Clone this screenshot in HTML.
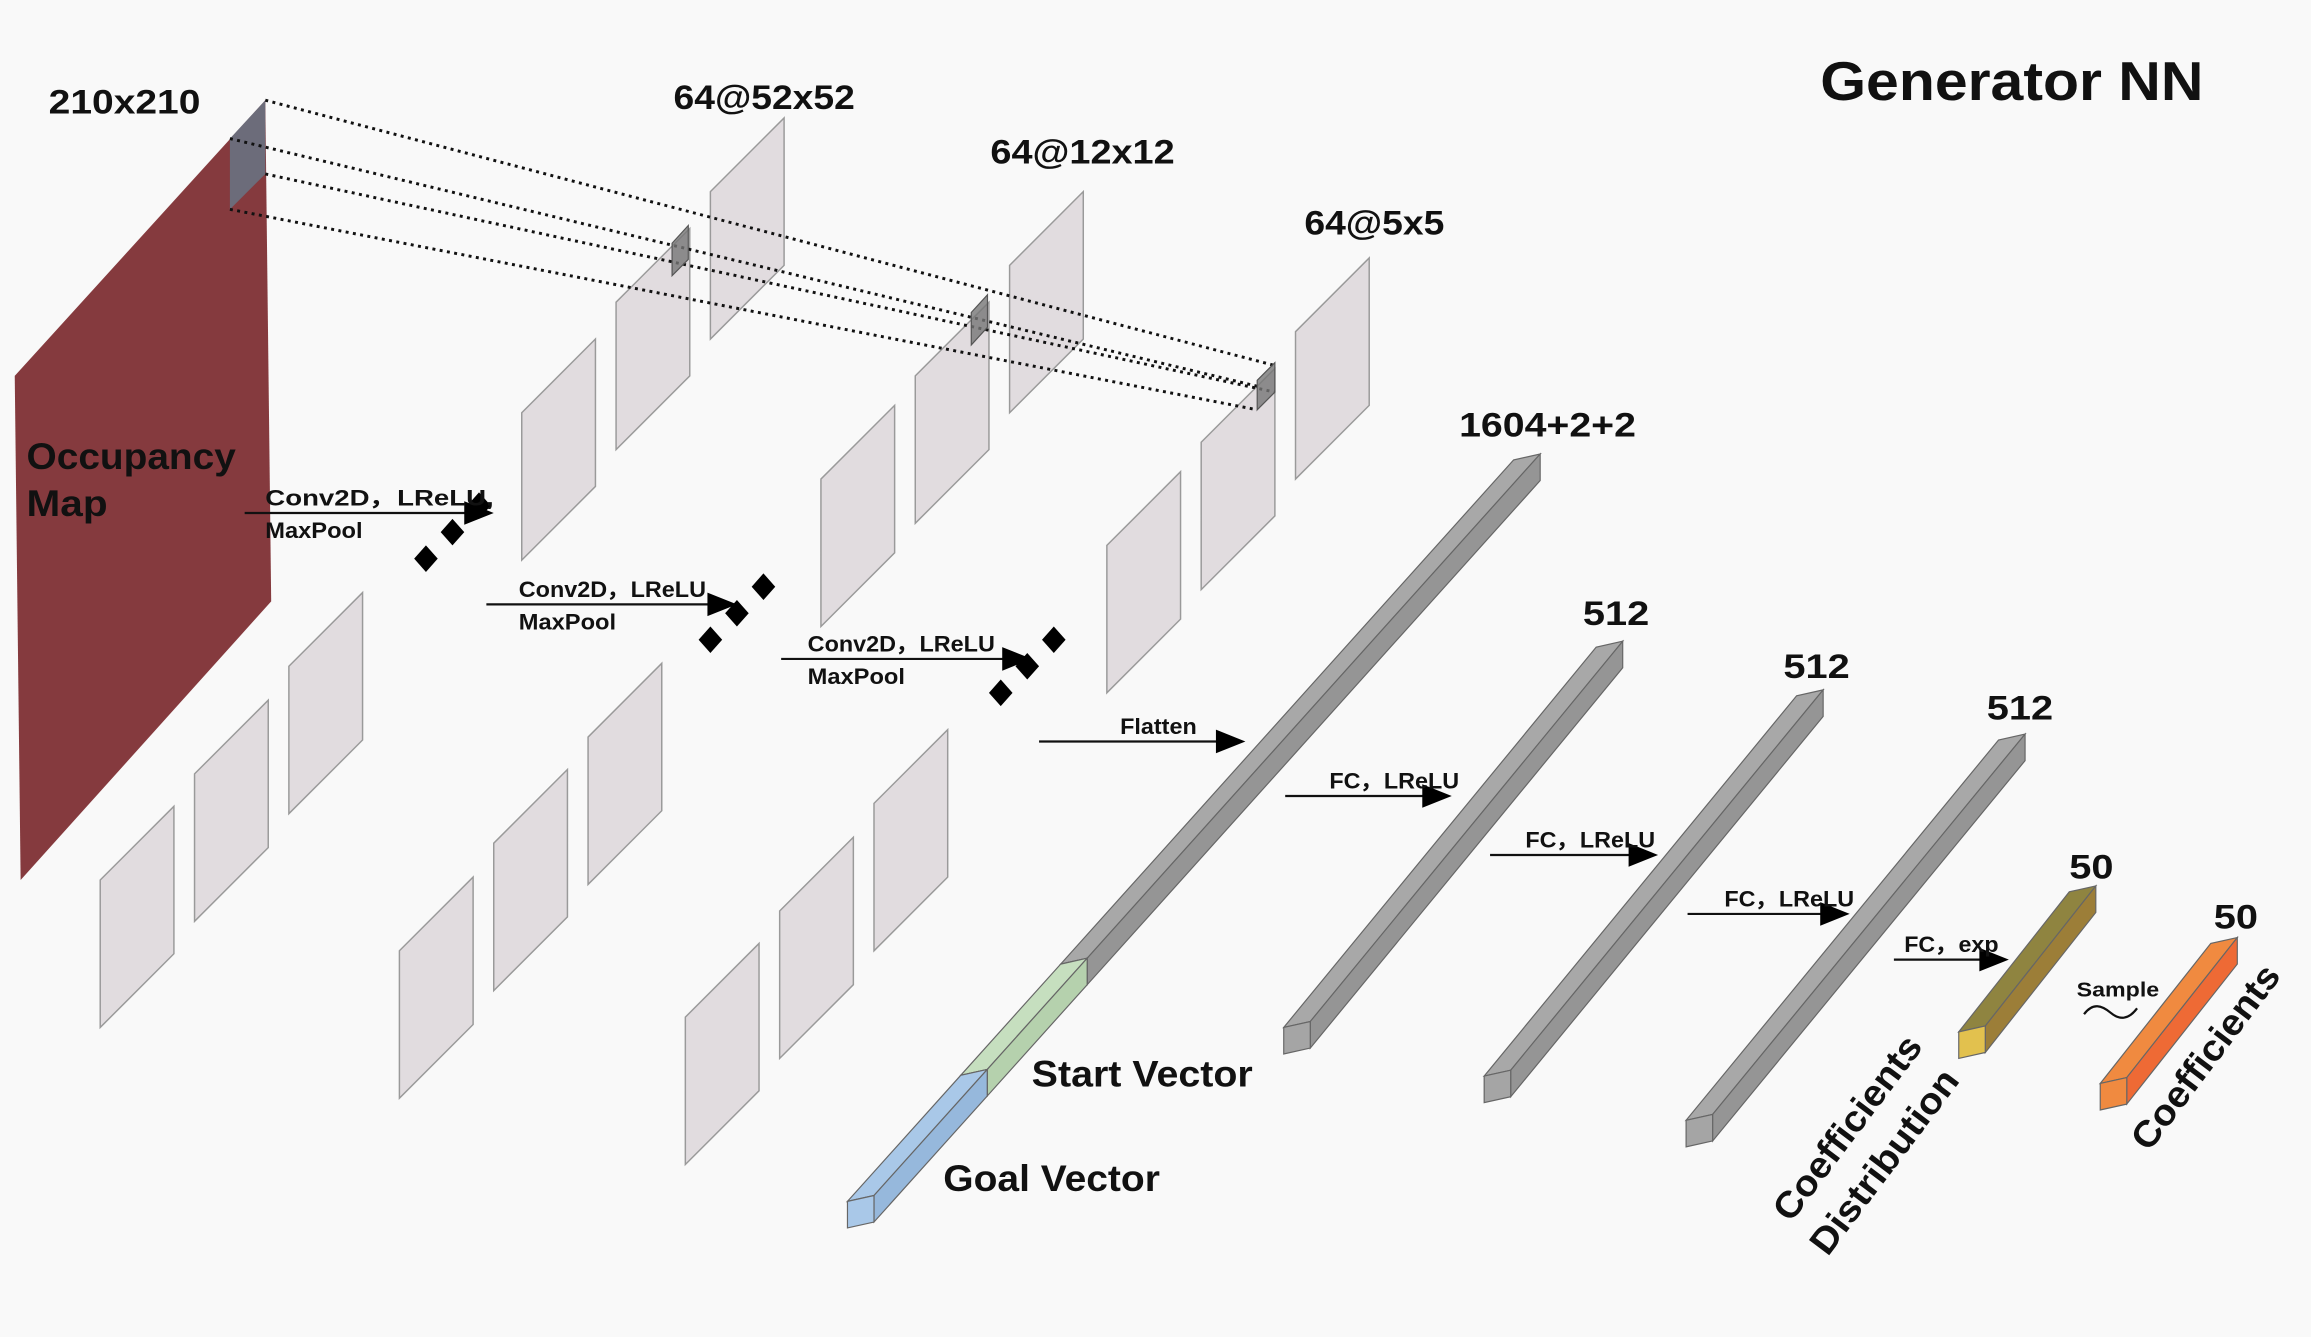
<!DOCTYPE html>
<html><head><meta charset="utf-8"><title>Generator NN</title>
<style>
html,body{margin:0;padding:0;background:#f9f9f9;}
svg{display:block;}
text{font-family:"Liberation Sans",Arial,sans-serif;font-weight:bold;fill:#111;}
</style></head>
<body>
<svg id="root" width="2311" height="1337" viewBox="0 0 1568 907" preserveAspectRatio="none" xmlns="http://www.w3.org/2000/svg">
<rect x="0" y="0" width="1568" height="907" fill="#f9f9f9"/>
<g id="planes"></g>
<polygon points="10,255 180,68 184,408 14,597" fill="#853a3e"/>
<polygon points="156,94 180,68 180,118 156,142" fill="#6c6c7a"/>
<g stroke="#111" stroke-width="2" stroke-dasharray="2,3" fill="none">
<line x1="180" y1="68" x2="865" y2="248"/>
<line x1="156" y1="94" x2="853" y2="262"/>
<line x1="180" y1="118" x2="865" y2="266"/>
<line x1="156" y1="142" x2="853" y2="278"/>
</g>
<g fill="#777" fill-opacity="0.8" stroke="#555" stroke-width="0.8">
<polygon points="456,165 467,153 467,176 456,187"/>
<polygon points="659,212 670,200 670,222 659,234"/>
<polygon points="853,258 865,246 865,266 853,278"/>
</g>
<g id="diamonds" fill="#000"></g>
<g id="arrows"></g>
<g id="bars"></g>

<text x="33" y="77" font-size="23" textLength="103" lengthAdjust="spacingAndGlyphs">210x210</text>
<text x="457" y="74" font-size="23" textLength="123" lengthAdjust="spacingAndGlyphs">64@52x52</text>
<text x="672" y="111" font-size="23" textLength="125" lengthAdjust="spacingAndGlyphs">64@12x12</text>
<text x="885" y="159" font-size="23" textLength="95" lengthAdjust="spacingAndGlyphs">64@5x5</text>
<text x="1235" y="68" font-size="37" textLength="260" lengthAdjust="spacingAndGlyphs">Generator NN</text>
<text x="990" y="296" font-size="23" textLength="120" lengthAdjust="spacingAndGlyphs">1604+2+2</text>
<text x="1074" y="424" font-size="23" textLength="45" lengthAdjust="spacingAndGlyphs">512</text>
<text x="1210" y="460" font-size="23" textLength="45" lengthAdjust="spacingAndGlyphs">512</text>
<text x="1348" y="488" font-size="23" textLength="45" lengthAdjust="spacingAndGlyphs">512</text>
<text x="1404" y="596" font-size="23" textLength="30" lengthAdjust="spacingAndGlyphs">50</text>
<text x="1502" y="630" font-size="23" textLength="30" lengthAdjust="spacingAndGlyphs">50</text>
<text x="18" y="318" font-size="25" textLength="142" lengthAdjust="spacingAndGlyphs">Occupancy</text>
<text x="18" y="350" font-size="25" textLength="55" lengthAdjust="spacingAndGlyphs">Map</text>
<text x="700" y="737" font-size="25" textLength="150" lengthAdjust="spacingAndGlyphs">Start Vector</text>
<text x="640" y="808" font-size="25" textLength="147" lengthAdjust="spacingAndGlyphs">Goal Vector</text>
<text x="1409" y="676" font-size="14" textLength="56" lengthAdjust="spacingAndGlyphs">Sample</text>
<path d="M1414,688 C1420,680 1426,682 1432,687 C1438,692 1444,692 1450,684" stroke="#111" stroke-width="1.5" fill="none"/>
<text font-size="25" transform="translate(1215,830) rotate(-53)" textLength="150" lengthAdjust="spacingAndGlyphs">Coefficients</text>
<text font-size="25" transform="translate(1240,853) rotate(-53)" textLength="150" lengthAdjust="spacingAndGlyphs">Distribution</text>
<text font-size="25" transform="translate(1458,782) rotate(-53)" textLength="150" lengthAdjust="spacingAndGlyphs">Coefficients</text>
</svg>
<script>
var NS='http://www.w3.org/2000/svg';
function mk(tag,parent,attrs){var e=document.createElementNS(NS,tag);for(var k in attrs)e.setAttribute(k,attrs[k]);parent.appendChild(e);return e;}
function pts(a){return a.map(function(p){return p[0]+','+p[1];}).join(' ');}

var planeX=[482,418,354,196,132,68,399,335,271,685,621,557,593,529,465,879,815,751];
var planeY=[130,205,280,452,525,597,500,572,645,180,255,325,545,618,690,225,300,370];
var pg=document.getElementById('planes');
for(var i=0;i<planeX.length;i++){
  var x=planeX[i],y=planeY[i];
  var p=mk('polygon',pg,{points:pts([[x,y],[x+50,y-50],[x+50,y+50],[x,y+100]]),fill:'#ddd7db','fill-opacity':'0.85',stroke:'#9a9a9a','stroke-width':'1'});
  
  
}

var diaX=[325,307,289,518,500,482,715,697,679];
var diaY=[343,361,379,398,416,434,434,452,470];
var dg=document.getElementById('diamonds');
for(var i=0;i<diaX.length;i++){
  var x=diaX[i],y=diaY[i];
  var d=mk('polygon',dg,{points:pts([[x,y-9],[x+8,y],[x,y+9],[x-8,y]])});
  
  
}

var arX1=[166,330,530,705,872,1011,1145,1285];
var arX2=[335,500,700,845,985,1125,1255,1363];
var arY=[348,410,447,503,540,580,620,651];
var arL1=['Conv2D，LReLU,','Conv2D，LReLU','Conv2D，LReLU','Flatten','FC，LReLU','FC，LReLU','FC，LReLU','FC，exp'];
var arW1=[155,127,127,52,88,88,88,64];
var arL2=['MaxPool','MaxPool','MaxPool','','','','',''];
var arLX=[180,352,548,760,902,1035,1170,1292];
var ag=document.getElementById('arrows');
for(var i=0;i<arX1.length;i++){
  var g=mk('g',ag,{});
  
  
  mk('line',g,{x1:arX1[i],y1:arY[i],x2:arX2[i]-18,y2:arY[i],stroke:'#111','stroke-width':'1.5'});
  mk('polygon',g,{points:pts([[arX2[i]-20,arY[i]-8],[arX2[i],arY[i]],[arX2[i]-20,arY[i]+8]]),fill:'#000'});
  var t=mk('text',g,{x:arLX[i],y:arY[i]-5,'font-size':'15',textLength:arW1[i],lengthAdjust:'spacingAndGlyphs'});t.textContent=arL1[i];
  if(arL2[i]){var t2=mk('text',g,{x:arLX[i],y:arY[i]+17,'font-size':'15',textLength:'66',lengthAdjust:'spacingAndGlyphs'});t2.textContent=arL2[i];}
}

var barAX=[575,871,1007,1144,1329,1425];
var barAY=[815,697,730,760,700,735];
var barVX=[452,212,212,212,75,75];
var barVY=[-503,-258,-258,-258,-95,-95];
var barTop=['#a8a8a8','#a8a8a8','#a8a8a8','#a8a8a8','#8f8440','#f08a40'];
var barSide=['#959595','#959595','#959595','#959595','#9c7e38','#ee6a35'];
var barEnd=['#a9c8e8','#a5a5a5','#a5a5a5','#a5a5a5','#e2c14e','#f08a40'];
var bg=document.getElementById('bars');
function box(g,a,v,top,side,end){
  var A=a,B=[a[0]+18,a[1]-4],C=[a[0]+18,a[1]+14],D=[a[0],a[1]+18];
  var add=function(p){return [p[0]+v[0],p[1]+v[1]];};
  mk('polygon',g,{points:pts([A,B,add(B),add(A)]),fill:top,stroke:'#666','stroke-width':'0.8'});
  mk('polygon',g,{points:pts([B,C,add(C),add(B)]),fill:side,stroke:'#666','stroke-width':'0.8'});
  mk('polygon',g,{points:pts([A,B,C,D]),fill:end,stroke:'#666','stroke-width':'0.8'});
}
for(var i=0;i<barAX.length;i++){
  var g=mk('g',bg,{});
  
  
  if(i===0){
    var f1=0.17,f2=0.32;
    var a0=[barAX[0],barAY[0]],v=[barVX[0],barVY[0]];
    var a2=[a0[0]+v[0]*f2,a0[1]+v[1]*f2];
    box(g,a2,[v[0]*(1-f2),v[1]*(1-f2)],'#a8a8a8','#959595','#a5a5a5');
    var a1=[a0[0]+v[0]*f1,a0[1]+v[1]*f1];
    box(g,a1,[v[0]*(f2-f1),v[1]*(f2-f1)],'#c6dfbf','#b5d1ad','#c6dfbf');
    box(g,a0,[v[0]*f1,v[1]*f1],'#a9c8e8','#96b8dc','#a9c8e8');
  } else {
    box(g,[barAX[i],barAY[i]],[barVX[i],barVY[i]],barTop[i],barSide[i],barEnd[i]);
  }
}
</script>
</body></html>
